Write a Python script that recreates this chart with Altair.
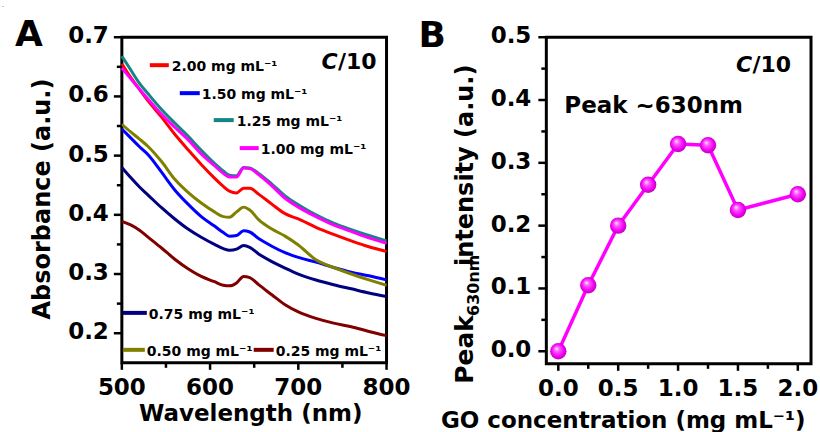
import altair as alt
import pandas as pd

FONT = "DejaVu Sans"

# ---------------- Panel A data: absorbance spectra ----------------
wavelength = [500, 510, 520, 530, 545, 560, 575, 590, 605, 615, 622, 630, 638, 645,
              655, 670, 685, 700, 720, 740, 760, 780, 800]
abs_2_00 = [0.655, 0.632, 0.612, 0.592, 0.565, 0.536, 0.510, 0.485, 0.462, 0.448, 0.440, 0.437,
            0.445, 0.445, 0.435, 0.418, 0.402, 0.393, 0.379, 0.367, 0.356, 0.346, 0.338]
abs_1_50 = [0.545, 0.530, 0.515, 0.501, 0.472, 0.442, 0.418, 0.397, 0.381, 0.370, 0.364, 0.365,
            0.373, 0.371, 0.360, 0.347, 0.336, 0.328, 0.320, 0.311, 0.303, 0.297, 0.290]
abs_1_25 = [0.668, 0.645, 0.622, 0.604, 0.578, 0.555, 0.533, 0.509, 0.487, 0.474, 0.467, 0.466,
            0.480, 0.479, 0.470, 0.452, 0.432, 0.417, 0.400, 0.386, 0.375, 0.365, 0.356]
abs_1_00 = [0.648, 0.630, 0.612, 0.595, 0.570, 0.548, 0.527, 0.503, 0.483, 0.470, 0.464, 0.464,
            0.479, 0.478, 0.468, 0.449, 0.428, 0.413, 0.397, 0.383, 0.372, 0.361, 0.352]
abs_0_75 = [0.480, 0.463, 0.447, 0.433, 0.412, 0.393, 0.376, 0.362, 0.350, 0.343, 0.340, 0.342,
            0.348, 0.345, 0.334, 0.321, 0.310, 0.300, 0.290, 0.282, 0.275, 0.268, 0.262]
abs_0_50 = [0.553, 0.540, 0.528, 0.515, 0.490, 0.460, 0.438, 0.420, 0.405, 0.397, 0.396, 0.405,
            0.413, 0.408, 0.392, 0.376, 0.364, 0.349, 0.324, 0.311, 0.300, 0.290, 0.281]
abs_0_25 = [0.389, 0.383, 0.374, 0.362, 0.344, 0.325, 0.309, 0.296, 0.287, 0.281, 0.280, 0.285,
            0.296, 0.294, 0.282, 0.265, 0.248, 0.236, 0.225, 0.217, 0.211, 0.203, 0.196]

series_labels = ["2.00 mg mL⁻¹", "1.50 mg mL⁻¹", "1.25 mg mL⁻¹", "1.00 mg mL⁻¹",
                 "0.75 mg mL⁻¹", "0.50 mg mL⁻¹", "0.25 mg mL⁻¹"]
series_values = [abs_2_00, abs_1_50, abs_1_25, abs_1_00, abs_0_75, abs_0_50, abs_0_25]
series_colors = ["#ff0000", "#0000ff", "#138585", "#ff00ff", "#000080", "#808000", "#800000"]

# ---------------- Panel B data: peak intensity ----------------
go_conc = [0.0, 0.25, 0.5, 0.75, 1.0, 1.25, 1.5, 2.0]
peak_int = [0.0, 0.105, 0.200, 0.265, 0.330, 0.328, 0.225, 0.250]

# ---------------- Ticks ----------------
a_x_major = [500, 600, 700, 800]
a_x_minor = [550, 650, 750]
a_y_major = [0.2, 0.3, 0.4, 0.5, 0.6, 0.7]
a_y_minor = [0.25, 0.35, 0.45, 0.55, 0.65]
b_x_major = [0.0, 0.5, 1.0, 1.5, 2.0]
b_x_minor = [0.25, 0.75, 1.25, 1.75]
b_y_major = [0.0, 0.1, 0.2, 0.3, 0.4, 0.5]
b_y_minor = [0.05, 0.15, 0.25, 0.35, 0.45]

# ---------------- Layout (pixels, relative to each plot area) ----------------
W, HA, HB = 265, 326, 327
legend_layout = [  # x1, x2, line y, text x, text baseline y
    (28, 47, 28, 50, 34),
    (58, 78, 56, 80, 62),
    (92, 112, 83, 115, 89),
    (118, 137, 111, 139, 117),
    (1, 25, 276, 27, 282),
    (1, 23, 313, 25, 319),
    (132, 152, 313, 154, 319),
]

xA = alt.Scale(domain=[500, 800], nice=False, zero=False)
yA = alt.Scale(domain=[0.15, 0.7], nice=False, zero=False)
xB = alt.Scale(domain=[-0.1, 2.11], nice=False, zero=False)
yB = alt.Scale(domain=[-0.02, 0.5], nice=False, zero=False)


def txt(text, x, y, size, align="left", baseline="alphabetic", angle=0, style="normal",
        weight="bold"):
    return alt.Chart(pd.DataFrame({"t": [text]})).mark_text(
        align=align, baseline=baseline, fontSize=size, font=FONT, fontWeight=weight,
        fontStyle=style, angle=angle, color="black"
    ).encode(x=alt.value(x), y=alt.value(y), text="t:N")


def hline(x1, x2, y, color, width=4):
    return alt.Chart(pd.DataFrame({"k": [0]})).mark_rule(
        color=color, strokeWidth=width, strokeCap="butt"
    ).encode(x=alt.value(x1), x2=alt.value(x2), y=alt.value(y))


def ticks(xs, ys, h, xmaj, xmin, ymaj, ymin, xfmt, yfmt, ylab_gap):
    out = [
        alt.Chart(pd.DataFrame({"v": xmaj})).mark_rule(color="black", strokeWidth=2.5)
        .encode(x=alt.X("v:Q", scale=xs, axis=None), y=alt.value(h), y2=alt.value(h + 7)),
        alt.Chart(pd.DataFrame({"v": xmin})).mark_rule(color="black", strokeWidth=2.5)
        .encode(x=alt.X("v:Q", scale=xs, axis=None), y=alt.value(h), y2=alt.value(h + 5)),
        alt.Chart(pd.DataFrame({"v": ymaj})).mark_rule(color="black", strokeWidth=2.5)
        .encode(y=alt.Y("v:Q", scale=ys, axis=None), x=alt.value(-8), x2=alt.value(0)),
        alt.Chart(pd.DataFrame({"v": ymin})).mark_rule(color="black", strokeWidth=2.5)
        .encode(y=alt.Y("v:Q", scale=ys, axis=None), x=alt.value(-5), x2=alt.value(0)),
    ]
    xl = pd.DataFrame({"v": xmaj, "s": [format(v, xfmt) for v in xmaj]})
    out.append(alt.Chart(xl).mark_text(align="center", baseline="alphabetic", font=FONT,
                                       fontSize=23, fontWeight="bold", color="black")
               .encode(x=alt.X("v:Q", scale=xs, axis=None), y=alt.value(h + 32), text="s:N"))
    yl = pd.DataFrame({"v": ymaj, "s": [format(v, yfmt) for v in ymaj]})
    out.append(alt.Chart(yl).mark_text(align="right", baseline="middle", font=FONT,
                                       fontSize=23, fontWeight="bold", color="black", dy=-1)
               .encode(y=alt.Y("v:Q", scale=ys, axis=None), x=alt.value(-ylab_gap), text="s:N"))
    return out


# ---------------- Panel A ----------------
layersA = []
for i in range(len(series_values)):
    df = pd.DataFrame({"wl": wavelength, "a": series_values[i]})
    layersA.append(alt.Chart(df).mark_line(color=series_colors[i], strokeWidth=3,
                                           interpolate="monotone").encode(
        x=alt.X("wl:Q", scale=xA, axis=None), y=alt.Y("a:Q", scale=yA, axis=None)))

layersA += ticks(xA, yA, HA, a_x_major, a_x_minor, a_y_major, a_y_minor, "d", ".1f", 13)

for i, (x1, x2, ly, tx, ty) in enumerate(legend_layout):
    layersA.append(hline(x1, x2, ly, series_colors[i], 4))
    layersA.append(txt(series_labels[i], tx, ty, 14))

layersA.append(txt("/10", 255, 32, 22, align="right"))
layersA.append(txt("C", 216, 32, 22, align="right", style="italic"))
layersA.append(txt("A", -107, 9, 36))
layersA.append(txt("Wavelength (nm)", 129, 384, 23, align="center"))
layersA.append(txt("Absorbance (a.u.)", -72, 162, 24, align="center", angle=270))
# text anchor that pins the page origin (top-left corner of the page)
layersA.append(txt(".", -120, -35, 6, baseline="top", weight="normal"))

panelA = alt.layer(*layersA).properties(width=W, height=HA)

# ---------------- Panel B ----------------
dfB = pd.DataFrame({"c": go_conc, "p": peak_int})
grad = alt.RadialGradient(
    gradient="radial", x1=0.38, y1=0.32, r1=0.0, x2=0.5, y2=0.5, r2=0.55,
    stops=[alt.GradientStop(color="#ffe8ff", offset=0.0),
           alt.GradientStop(color="#ff55ff", offset=0.3),
           alt.GradientStop(color="#f000f0", offset=0.7),
           alt.GradientStop(color="#b400b4", offset=1.0)])

lineB = alt.Chart(dfB).mark_line(color="#ff00ff", strokeWidth=3.5).encode(
    x=alt.X("c:Q", scale=xB, axis=None), y=alt.Y("p:Q", scale=yB, axis=None))
ptsB = alt.Chart(dfB).mark_point(shape="circle", filled=True, size=270, fill=grad,
                                 strokeWidth=0, opacity=1).encode(
    x=alt.X("c:Q", scale=xB, axis=None), y=alt.Y("p:Q", scale=yB, axis=None))

layersB = [lineB, ptsB]
layersB += ticks(xB, yB, HB, b_x_major, b_x_minor, b_y_major, b_y_minor, ".1f", ".1f", 15)
layersB.append(txt("/10", 245, 35, 22, align="right"))
layersB.append(txt("C", 206, 35, 22, align="right", style="italic"))
layersB.append(txt("Peak ~630nm", 18, 76, 23))
layersB.append(txt("B", -128, 10, 36))
layersB.append(txt("GO concentration (mg mL⁻¹)", 77, 391, 23, align="center"))
layersB.append(txt("Peak", -73, 347, 25, angle=270))
layersB.append(txt("630nm", -67, 279, 16, angle=270))
layersB.append(txt("intensity (a.u.)", -73, 229, 24, angle=270))

panelB = alt.layer(*layersB).properties(width=W, height=HB)

chart = alt.hconcat(panelA, panelB, spacing=160, bounds="flush").properties(
    padding=0, background="white"
).configure(font=FONT).configure_view(stroke="black", strokeWidth=3)

chart.save("out.html", embed_options={"renderer": "svg", "actions": False})
